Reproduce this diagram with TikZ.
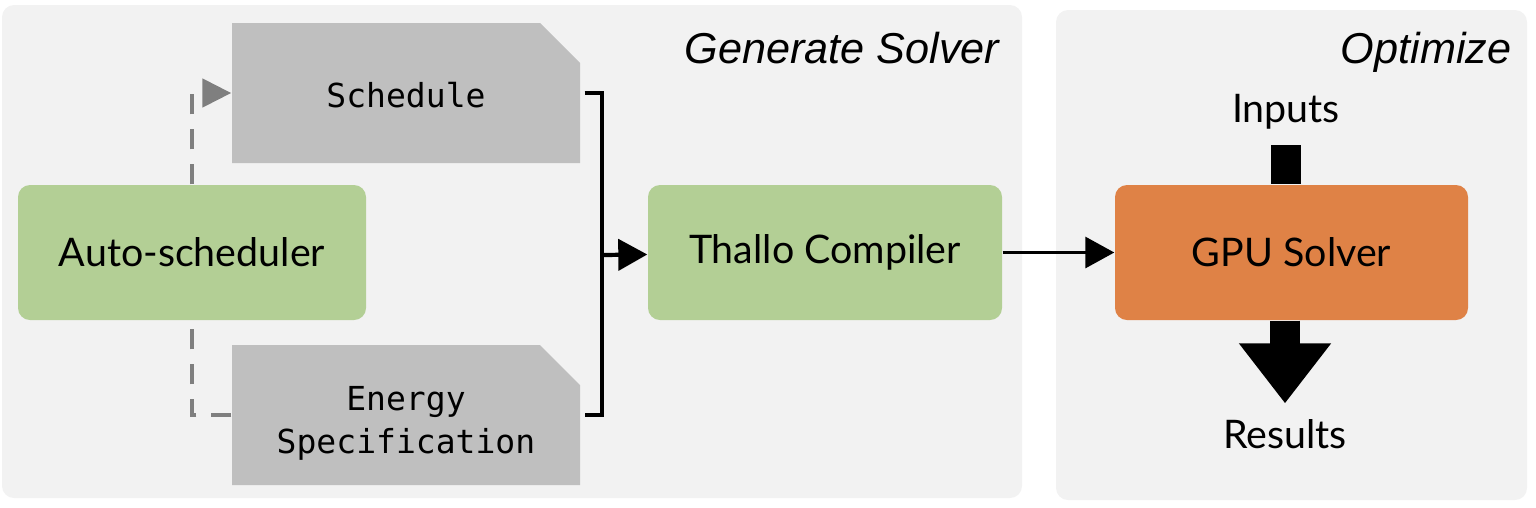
\documentclass[tikz,border=0pt]{standalone}
\usepackage{fontspec}
\setmainfont{Lato}
\setmonofont{DejaVu Sans Mono}
\newfontfamily\titlefont{Liberation Sans}
\usetikzlibrary{arrows.meta,shapes.misc,backgrounds}

\definecolor{panelgray}{RGB}{242,242,242}
\definecolor{docgray}{RGB}{191,191,191}
\definecolor{dashgray}{RGB}{127,127,127}
\definecolor{stepgreen}{RGB}{179,207,149}
\definecolor{solverorange}{RGB}{223,130,70}

\begin{document}
\begin{tikzpicture}[>={Triangle[length=0.29cm,width=0.31cm]},
        box/.style={rectangle,rounded corners=0.12cm,minimum width=3.48cm,
          minimum height=1.35cm,font=\fontsize{11.2}{13}\selectfont},
        doc/.style={chamfered rectangle,chamfered rectangle corners=north east,
          chamfered rectangle xsep=0.2cm,chamfered rectangle ysep=0.2cm,
          fill=docgray,minimum width=3.48cm,minimum height=1.4cm,align=center,
          font=\ttfamily\fontsize{9.4}{12.2}\selectfont},
        panel/.style={fill=panelgray,rounded corners=0.12cm},
        title/.style={font=\titlefont\itshape\fontsize{12.3}{14}\selectfont,
          anchor=base east,inner sep=0pt},
        bracket/.style={line width=1.2pt},
        dashline/.style={dashgray,line width=1.4pt,dash pattern=on 0.2cm off 0.15cm},
        fat/.style={line width=0.3cm},
        lbl/.style={font=\fontsize{11.2}{13}\selectfont}]
  \useasboundingbox (0,0) rectangle (15.36,5.07);

  \node[box,fill=stepgreen] (auto) at (1.92,2.545) {Auto-scheduler};
  \node[doc,text height=0.3cm] (schedule) at (4.06,4.14) {Schedule};
  \node[doc,text height=0.83cm,inner ysep=0.04cm] (energy) at (4.06,0.92) {Energy\\Specification};
  \node[box,fill=stepgreen,minimum width=3.54cm] (thallo) at (8.25,2.545) {Thallo Compiler};
  \node[box,fill=solverorange,minimum width=3.53cm] (gpu) at (12.915,2.545) {GPU Solver};
  \node[lbl] (inputs) at (12.86,3.955) {Inputs};
  \node[lbl] (results) at (12.85,0.725) {Results};
  \coordinate (join) at (6.02,2.52);

  \node[title] at (10.0,4.44) {Generate Solver};
  \node[title] at (15.12,4.44) {Optimize};

  \draw[bracket] ([xshift=0.04cm]schedule.east) -| (join)
        |- ([xshift=0.04cm]energy.east);
  \draw[bracket,->] (join) -- (thallo);
  \draw[line width=0.9pt,->] (thallo) -- (gpu);
  \draw[fat] ([yshift=-0.04cm]inputs.south) -- (inputs.south |- gpu.north);
  \draw[fat,-{Triangle[length=0.6cm,width=0.88cm]},shorten >=0.04cm]
        (results.north |- gpu.south) -- (results.north);

  \begin{scope}[on background layer]
    \fill[panel] (0.02,0.09) rectangle (10.22,5.02);
    \fill[panel] (10.56,0.07) rectangle (15.27,4.97);
    \draw[dashline,-{Triangle[length=0.29cm,width=0.28cm]}] (energy.west) -| (auto)
        |- (schedule.west);
  \end{scope}
\end{tikzpicture}
\end{document}
